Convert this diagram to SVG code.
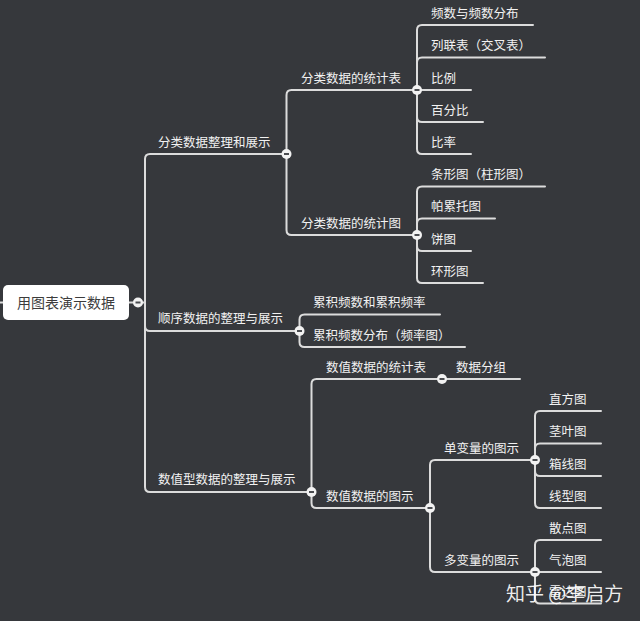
<svg xmlns="http://www.w3.org/2000/svg" width="640" height="621" viewBox="0 0 640 621">
<style>
.bg{fill:#36383c}
.ln{fill:none;stroke:#dcdcdc;stroke-width:2;stroke-linecap:round}
.t{font-family:"Noto Sans CJK SC","Liberation Sans",sans-serif;font-size:12.5px;fill:#f2f2f2}
.root{fill:#ffffff}
.rt{font-family:"Noto Sans CJK SC","Liberation Sans",sans-serif;font-size:14px;fill:#3c3c3c}
.wm{font-family:"Noto Sans CJK SC","Liberation Sans",sans-serif;font-size:19px;fill:#ffffff;fill-opacity:0.92}
</style>
<defs>
<g id="col"><circle r="5" fill="#f2f2f2"/><line x1="-2.5" y1="0" x2="2.5" y2="0" stroke="#4a4c50" stroke-width="2"/></g>
</defs>
<rect class="bg" x="0" y="0" width="640" height="621"/>
<g id="connectors">
<path class="ln" d="M0,302.5 H3 M129,302.5 H145"/>
<path class="ln" d="M145,302.5 V159 Q145,154 150,154 H286"/>
<path class="ln" d="M145,302.5 V326 Q145,331 150,331 H299"/>
<path class="ln" d="M145,302.5 V487 Q145,492 150,492 H311"/>
<path class="ln" d="M286.5,154 V95 Q286.5,90 291.5,90 H416.5"/>
<path class="ln" d="M286.5,154 V230 Q286.5,235 291.5,235 H416.5"/>
<path class="ln" d="M417,90 V30 Q417,25 422,25 H533"/>
<path class="ln" d="M417,90 V62.5 Q417,57.5 422,57.5 H545"/>
<path class="ln" d="M417,90 H471"/>
<path class="ln" d="M417,90 V117 Q417,122 422,122 H483"/>
<path class="ln" d="M417,90 V149 Q417,154 422,154 H471"/>
<path class="ln" d="M417,235 V191.5 Q417,186.5 422,186.5 H545"/>
<path class="ln" d="M417,235 V223.5 Q417,218.5 422,218.5 H495"/>
<path class="ln" d="M417,235 V246 Q417,251 422,251 H471"/>
<path class="ln" d="M417,235 V278 Q417,283 422,283 H483"/>
<path class="ln" d="M299.5,331 V319.5 Q299.5,314.5 304.5,314.5 H440"/>
<path class="ln" d="M299.5,331 V342 Q299.5,347 304.5,347 H465"/>
<path class="ln" d="M311.5,492 V384 Q311.5,379 316.5,379 H520"/>
<path class="ln" d="M311.5,492 V503 Q311.5,508 316.5,508 H430"/>
<path class="ln" d="M430,508 V465 Q430,460 435,460 H534.5"/>
<path class="ln" d="M430,508 V567 Q430,572 435,572 H534.5"/>
<path class="ln" d="M535,460 V416 Q535,411 540,411 H601"/>
<path class="ln" d="M535,460 V448.5 Q535,443.5 540,443.5 H601"/>
<path class="ln" d="M535,460 V471 Q535,476 540,476 H601"/>
<path class="ln" d="M535,460 V503 Q535,508 540,508 H601"/>
<path class="ln" d="M535,572 V545 Q535,540 540,540 H601"/>
<path class="ln" d="M535,572 H601"/>
<path class="ln" d="M535,572 V598.5 Q535,603.5 540,603.5 H601"/>
</g>
<g id="root"><rect class="root" x="3" y="285" width="126" height="35" rx="5"/><text class="rt" x="66" y="307.5" text-anchor="middle">用图表演示数据</text><use href="#col" x="138" y="302.5"/></g>
<g id="n-fenlei"><text class="t" x="158" y="146.5">分类数据整理和展示</text><use href="#col" x="286.5" y="154"/></g>
<g id="n-shunxu"><text class="t" x="158" y="322.5">顺序数据的整理与展示</text><use href="#col" x="299.5" y="331"/></g>
<g id="n-shuzhi"><text class="t" x="158" y="483.5">数值型数据的整理与展示</text><use href="#col" x="311.5" y="492"/></g>
<g id="n-fl-biao"><text class="t" x="301" y="82.5">分类数据的统计表</text><use href="#col" x="417" y="90"/></g>
<g id="n-fl-tu"><text class="t" x="301" y="227.5">分类数据的统计图</text><use href="#col" x="417" y="235"/></g>
<g id="n-pinshu"><text class="t" x="431" y="17.5">频数与频数分布</text></g>
<g id="n-lianlie"><text class="t" x="431" y="50">列联表（交叉表）</text></g>
<g id="n-bili"><text class="t" x="431" y="82.5">比例</text></g>
<g id="n-baifenbi"><text class="t" x="431" y="114.5">百分比</text></g>
<g id="n-bilv"><text class="t" x="431" y="146.5">比率</text></g>
<g id="n-tiaoxing"><text class="t" x="431" y="179">条形图（柱形图）</text></g>
<g id="n-pareto"><text class="t" x="431" y="211">帕累托图</text></g>
<g id="n-bing"><text class="t" x="431" y="243.5">饼图</text></g>
<g id="n-huan"><text class="t" x="431" y="275.5">环形图</text></g>
<g id="n-leiji1"><text class="t" x="313" y="307">累积频数和累积频率</text></g>
<g id="n-leiji2"><text class="t" x="313" y="339.5">累积频数分布（频率图）</text></g>
<g id="n-sz-biao"><text class="t" x="326" y="371.5">数值数据的统计表</text><use href="#col" x="442" y="379"/></g>
<g id="n-fenzu"><text class="t" x="456" y="371.5">数据分组</text></g>
<g id="n-sz-tu"><text class="t" x="326" y="500.5">数值数据的图示</text><use href="#col" x="430" y="508"/></g>
<g id="n-dan"><text class="t" x="444" y="452.5">单变量的图示</text><use href="#col" x="535" y="460"/></g>
<g id="n-duo"><text class="t" x="444" y="564.5">多变量的图示</text><use href="#col" x="535" y="572"/></g>
<g id="n-zhifang"><text class="t" x="549" y="403.5">直方图</text></g>
<g id="n-jingye"><text class="t" x="549" y="436">茎叶图</text></g>
<g id="n-xiangxian"><text class="t" x="549" y="468.5">箱线图</text></g>
<g id="n-xianxing"><text class="t" x="549" y="500.5">线型图</text></g>
<g id="n-sandian"><text class="t" x="549" y="532.5">散点图</text></g>
<g id="n-qipao"><text class="t" x="549" y="564.5">气泡图</text></g>
<g id="n-leida"><text class="t" x="549" y="596">雷达图</text></g>
<text class="wm" x="506" y="601">知乎 @李启方</text>
</svg>
